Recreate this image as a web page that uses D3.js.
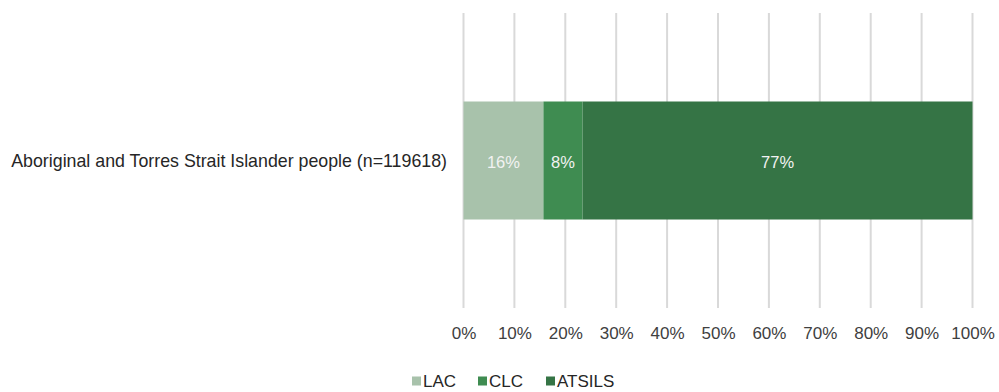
<!DOCTYPE html>
<html>
<head>
<meta charset="utf-8">
<script src="https://cdn.jsdelivr.net/npm/d3@7"></script>
<style>
  html, body { margin: 0; padding: 0; background: #ffffff; }
  svg text { font-family: "Liberation Sans", Arial, sans-serif; }
</style>
</head>
<body>
<svg id="chart" width="999" height="392"></svg>
<script>
// Share of people by service type (proportions of 1)
const categories = ["Aboriginal and Torres Strait Islander people (n=119618)"];
const seriesNames = ["LAC", "CLC", "ATSILS"];
const LAC = [0.157];
const CLC = [0.077];
const ATSILS = [0.766];
const tickValues = [0, 0.1, 0.2, 0.3, 0.4, 0.5, 0.6, 0.7, 0.8, 0.9, 1.0];
const colors = ["#a8c2ab", "#3f8c51", "#357445"];

const svg = d3.select("#chart");
const margin = { left: 463.5, right: 26.5, top: 13, bottom: 84 };
const W = 999, H = 392;

const x = d3.scaleLinear()
  .domain([0, 1])
  .range([margin.left, W - margin.right]);

const y = d3.scaleBand()
  .domain(categories)
  .range([margin.top, H - margin.bottom])
  .paddingInner(0)
  .paddingOuter(0.75);

// Vertical gridlines
svg.append("g")
  .selectAll("line")
  .data(tickValues)
  .join("line")
  .attr("x1", d => x(d)).attr("x2", d => x(d))
  .attr("y1", margin.top).attr("y2", H - margin.bottom)
  .attr("stroke", "#d9d9d9")
  .attr("stroke-width", 2);

// Stack the series
const rows = categories.map((c, i) => ({ cat: c, LAC: LAC[i], CLC: CLC[i], ATSILS: ATSILS[i] }));
const stacked = d3.stack().keys(seriesNames)(rows);

const layers = svg.append("g")
  .selectAll("g")
  .data(stacked)
  .join("g")
  .attr("fill", (d, i) => colors[i]);

layers.selectAll("rect")
  .data(d => d)
  .join("rect")
  .attr("x", d => x(d[0]))
  .attr("width", d => x(d[1]) - x(d[0]))
  .attr("y", d => y(d.data.cat))
  .attr("height", y.bandwidth());

// Value labels inside segments
const fmt = d3.format(".0%");
layers.selectAll("text")
  .data((d) => d.map(v => ({ v, key: d.key })))
  .join("text")
  .attr("x", d => (x(d.v[0]) + x(d.v[1])) / 2)
  .attr("y", d => y(d.v.data.cat) + y.bandwidth() / 2 + 2)
  .attr("dy", "0.35em")
  .attr("text-anchor", "middle")
  .attr("fill", "#f2f2f2")
  .attr("font-size", 16.5)
  .text(d => fmt(d.v.data[d.key]));

// Category axis label
svg.append("g")
  .selectAll("text")
  .data(categories)
  .join("text")
  .attr("x", 447)
  .attr("y", d => y(d) + y.bandwidth() / 2)
  .attr("dy", "0.35em")
  .attr("text-anchor", "end")
  .attr("fill", "#262626")
  .attr("font-size", 17.8)
  .text(d => d);

// Bottom axis tick labels
const xAxis = d3.axisBottom(x)
  .tickValues(tickValues)
  .tickFormat(d3.format(".0%"))
  .tickSize(0)
  .tickPadding(0);
const axisG = svg.append("g")
  .attr("transform", "translate(0, 327)")
  .call(xAxis);
axisG.select(".domain").remove();
axisG.selectAll("text")
  .attr("font-family", "Liberation Sans, Arial, sans-serif")
  .attr("font-size", 17)
  .attr("fill", "#404040");

// Legend
const legend = svg.append("g").attr("transform", "translate(412, 381)");
const legendOffsets = [0, 66, 134];
const items = legend.selectAll("g")
  .data(seriesNames)
  .join("g")
  .attr("transform", (d, i) => `translate(${legendOffsets[i]}, 0)`);
items.append("rect")
  .attr("x", 0).attr("y", -4.5)
  .attr("width", 9).attr("height", 9)
  .attr("fill", (d, i) => colors[i]);
items.append("text")
  .attr("x", 11).attr("y", 0)
  .attr("dy", "0.35em")
  .attr("fill", "#262626")
  .attr("font-size", 17)
  .text(d => d);
</script>
</body>
</html>
